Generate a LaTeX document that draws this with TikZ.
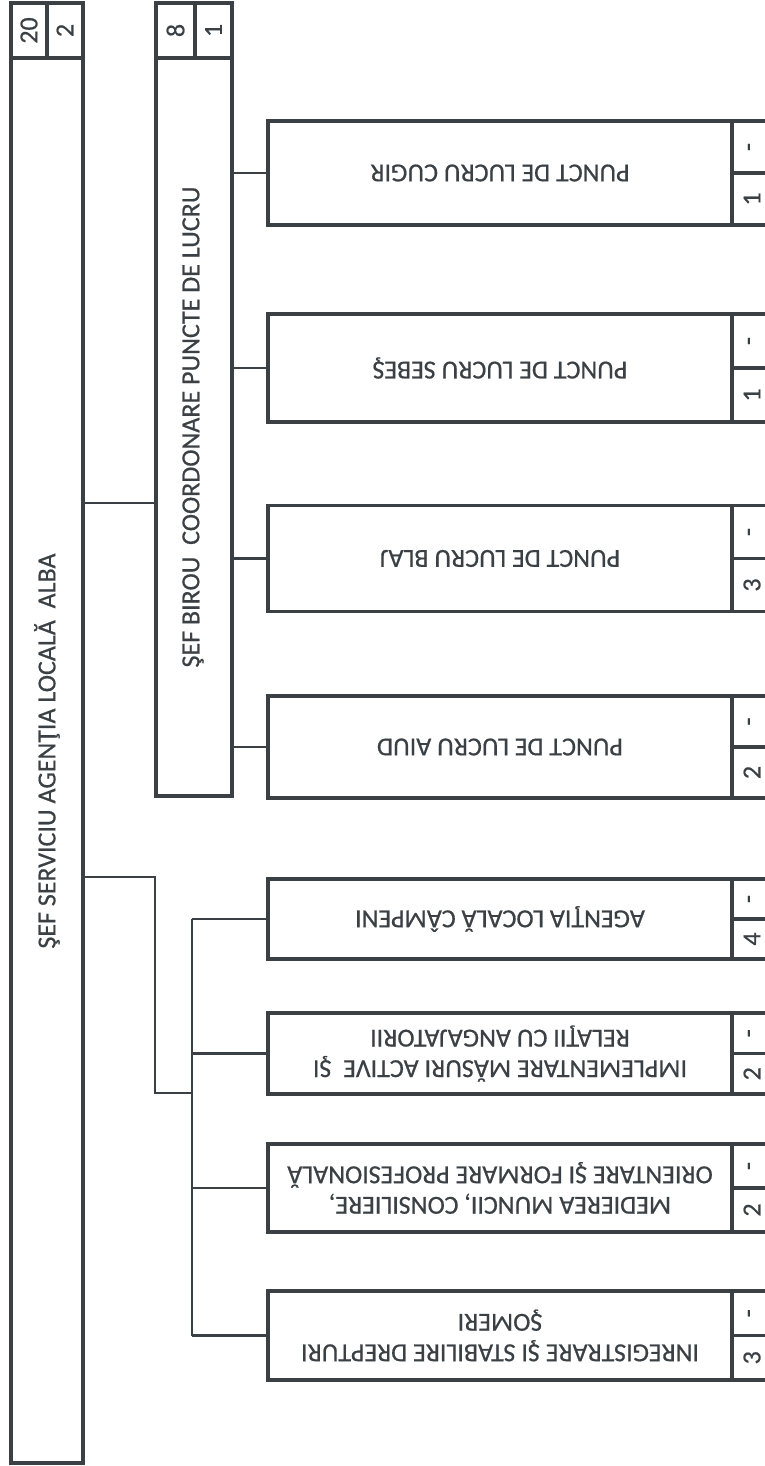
\documentclass[tikz,border=0pt]{standalone}
\usepackage{fontspec}
\setmainfont{Carlito}
\newfontfamily\inkfont{Carlito}[FakeBold=0.6]
\definecolor{ink}{RGB}{58,64,68}
\newcommand{\mkchild}[5]{%
  \node[box, minimum width=464pt, minimum height=#3pt] (#1) at (500,#2) {};
  \node[ttext, rotate=180] (#1t) at (#1.center) {#4};
  \node[box, minimum width=40pt, minimum height={#3*0.5pt}, anchor=north west] (#1a) at (#1.north east) {};
  \node[box, minimum width=40pt, minimum height={#3*0.5pt}, anchor=north west] (#1b) at (#1a.south west) {};
  \node[ttext, rotate=90] (#1at) at (#1a.center) {-};
  \node[ttext, rotate=90] (#1bt) at (#1b.center) {#5};
}
\begin{document}
\begin{tikzpicture}[x=1pt,y=-1pt,
  box/.style={draw=ink, line width=3.4pt, inner sep=0pt, outer sep=0pt},
  ttext/.style={text=ink, font=\inkfont\fontsize{26}{30.5}\selectfont, align=center, inner sep=0pt},
  conn/.style={draw=ink, line width=2.8pt}]
\useasboundingbox (0,0) rectangle (764,1466);

% root
\node[box, minimum width=72pt, minimum height=1405pt] (root) at (47,760.5) {};
\node[ttext, rotate=90] (roott) at (47,751) {ŞEF SERVICIU AGENŢIA LOCALĂ\ \ ALBA};
\node[box, minimum width=36pt, minimum height=55pt, anchor=south west] (rootA) at (root.north west) {};
\node[box, minimum width=36pt, minimum height=55pt, anchor=south west] (rootB) at (rootA.south east) {};
\node[ttext, rotate=90] (rootAt) at (rootA.center) {20};
\node[ttext, rotate=90] (rootBt) at (rootB.center) {2};

% birou
\node[box, minimum width=76pt, minimum height=738pt] (birou) at (194,427) {};
\node[ttext, rotate=90] (birout) at (193,427) {ŞEF BIROU\ \ COORDONARE PUNCTE DE LUCRU};
\node[box, minimum width=39pt, minimum height=55pt, anchor=south west] (birouA) at (birou.north west) {};
\node[box, minimum width=37pt, minimum height=55pt, anchor=south west] (birouB) at (birouA.south east) {};
\node[ttext, rotate=90] (birouAt) at (birouA.center) {8};
\node[ttext, rotate=90] (birouBt) at (birouB.center) {1};

% upper children
\mkchild{cugir}{173}{104}{PUNCT DE LUCRU CUGIR}{1}
\mkchild{sebes}{368}{108}{PUNCT DE LUCRU SEBEŞ}{1}
\mkchild{blaj}{558.5}{106}{PUNCT DE LUCRU BLAJ}{3}
\mkchild{aiud}{747}{102}{PUNCT DE LUCRU AIUD}{2}

% lower children
\mkchild{campeni}{919}{80}{AGENŢIA LOCALĂ CÂMPENI}{4}
\mkchild{implem}{1053.5}{81}{IMPLEMENTARE MĂSURI ACTIVE\ \ ŞI\\RELAŢII CU ANGAJATORII}{2}
\mkchild{medierea}{1188}{88}{MEDIEREA MUNCII, CONSILIERE,\\ORIENTARE ŞI FORMARE PROFESIONALĂ}{2}
\mkchild{inreg}{1335.5}{89}{INREGISTRARE ŞI STABILIRE DREPTURI\\ŞOMERI}{3}

% connectors
\coordinate (j1) at (0,503);
\draw[conn] (root.east |- j1) -- (birou.west |- j1);
\foreach \c in {cugir,sebes,blaj,aiud}
  \draw[conn] (birou.east |- \c) -- (\c.west);
\coordinate (elbow) at (155,877);
\coordinate (bus) at (192,1093);
\draw[conn] (root.east |- elbow) -- (elbow) -- (elbow |- bus) -- (bus);
\draw[conn] (bus |- campeni) -- (bus |- inreg);
\foreach \c in {campeni,implem,medierea,inreg}
  \draw[conn] (bus |- \c) -- (\c.west);
\end{tikzpicture}
\end{document}
